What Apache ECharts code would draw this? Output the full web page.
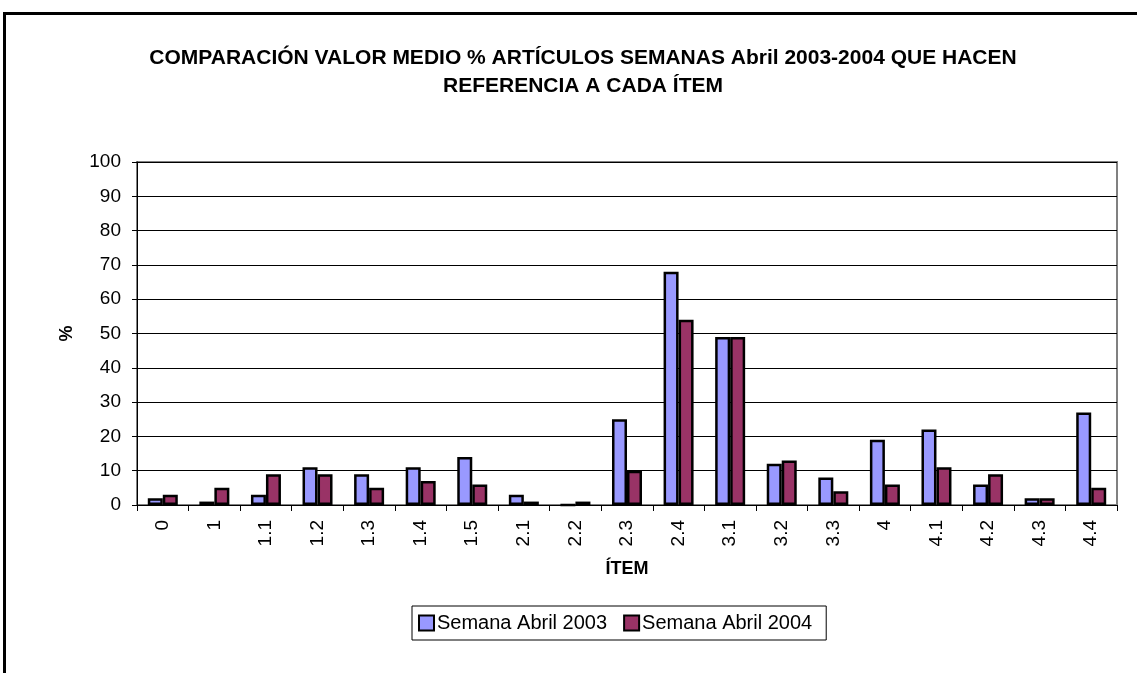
<!DOCTYPE html>
<html>
<head>
<meta charset="utf-8">
<script src="https://cdn.jsdelivr.net/npm/echarts@6/dist/echarts.min.js"></script>
<style>
  html, body { margin: 0; padding: 0; background: #fff; overflow: hidden; }
  #frame {
    position: absolute; left: 3px; top: 12px; width: 1140px; height: 680px;
    border-top: 3px solid #000; border-left: 3px solid #000;
  }
  #chart { position: absolute; left: 0; top: 0; width: 1137px; height: 673px; }
</style>
</head>
<body>
<div id="frame"></div>
<div id="chart"></div>
<script>
// categorias (ítems)
const items = ['0', '1', '1.1', '1.2', '1.3', '1.4', '1.5', '2.1', '2.2', '2.3', '2.4',
  '3.1', '3.2', '3.3', '4', '4.1', '4.2', '4.3', '4.4'];
const abril2003 = [2, 1, 3, 11, 9, 11, 14, 3, 0, 25, 68, 49, 12, 8, 19, 22, 6, 2, 27];
const abril2004 = [3, 5, 9, 9, 5, 7, 6, 1, 1, 10, 54, 49, 13, 4, 6, 11, 9, 2, 5];
const yTicks = [0, 100, 10]; // min, max, intervalo

const font = 'Liberation Sans, Arial, sans-serif';
const chart = echarts.init(document.getElementById('chart'));

chart.setOption({
  animation: false,
  title: {
    text: 'COMPARACIÓN VALOR MEDIO % ARTÍCULOS SEMANAS Abril 2003-2004 QUE HACEN\nREFERENCIA A CADA ÍTEM',
    left: 578,
    textAlign: 'center',
    top: 39,
    textStyle: { fontFamily: font, fontSize: 21, fontWeight: 'bold', color: '#000', lineHeight: 28 }
  },
  legend: {
    bottom: 33,
    left: 412,
    icon: 'rect',
    itemWidth: 15,
    itemHeight: 15,
    itemGap: 16,
    padding: [7, 14, 7, 6],
    borderColor: '#000',
    borderWidth: 1,
    textStyle: { fontFamily: font, fontSize: 20, color: '#000', padding: [0, 0, 0, -2] },
    data: ['Semana Abril 2003', 'Semana Abril 2004']
  },
  grid: { left: 137, right: 20, top: 162, bottom: 168, show: true, borderColor: '#808080', borderWidth: 2 },
  xAxis: {
    type: 'category',
    data: items,
    name: 'ÍTEM',
    nameLocation: 'middle',
    nameGap: 55,
    nameTextStyle: { fontFamily: font, fontSize: 18, fontWeight: 'bold', color: '#000' },
    axisLine: { lineStyle: { color: '#000', width: 1 } },
    axisTick: { show: true, alignWithLabel: false, length: 6, lineStyle: { color: '#000' } },
    axisLabel: { rotate: 90, fontFamily: font, fontSize: 19, color: '#000', margin: 15 }
  },
  yAxis: {
    type: 'value',
    min: yTicks[0],
    max: yTicks[1],
    interval: yTicks[2],
    name: '%',
    nameLocation: 'middle',
    nameGap: 61,
    nameRotate: 90,
    nameTextStyle: { fontFamily: font, fontSize: 18, fontWeight: 'bold', color: '#000' },
    axisLine: { show: true, lineStyle: { color: '#000', width: 1 } },
    axisTick: { show: true, length: 5, lineStyle: { color: '#000' } },
    axisLabel: { fontFamily: font, fontSize: 19, color: '#000', margin: 16 },
    splitLine: { lineStyle: { color: '#000', width: 1 } }
  },
  series: [
    {
      name: 'Semana Abril 2003',
      type: 'bar',
      data: abril2003,
      barWidth: 15,
      barGap: '0%',
      itemStyle: { color: '#9999ff', borderColor: '#000', borderWidth: 2.5 }
    },
    {
      name: 'Semana Abril 2004',
      type: 'bar',
      data: abril2004,
      barWidth: 15,
      itemStyle: { color: '#993366', borderColor: '#000', borderWidth: 2.5 }
    }
  ]
});
</script>
</body>
</html>
